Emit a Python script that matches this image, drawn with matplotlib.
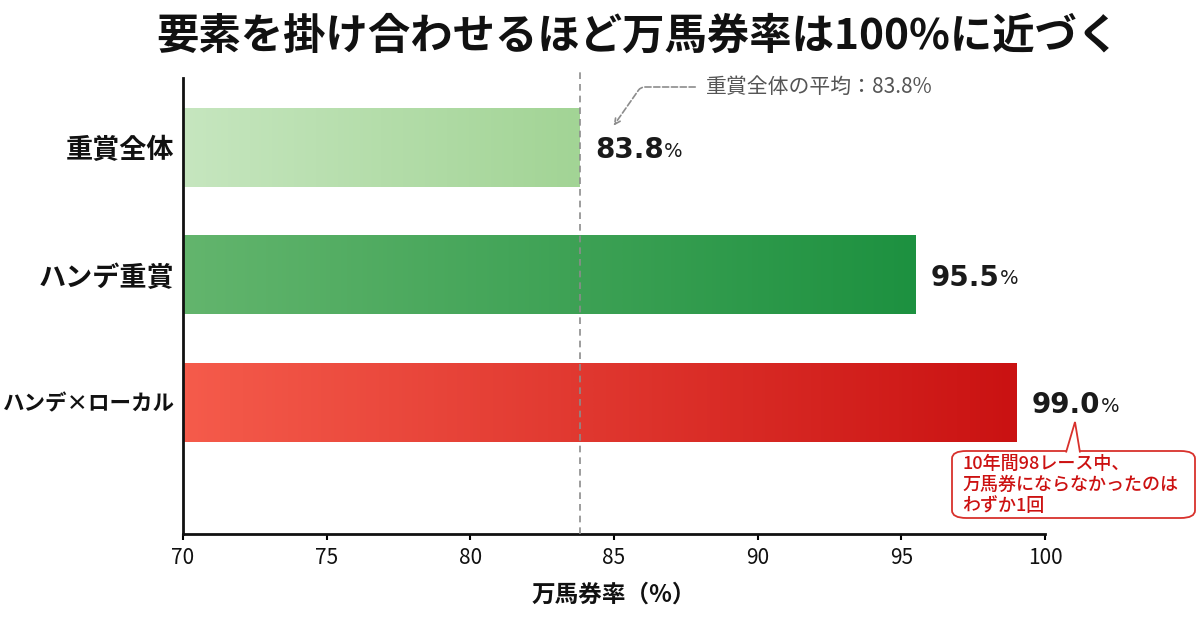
import numpy as np
import matplotlib
matplotlib.use('Agg')
import matplotlib.pyplot as plt
from matplotlib.colors import LinearSegmentedColormap
from matplotlib.patches import FancyBboxPatch, Polygon

plt.rcParams['font.family'] = ['Noto Sans CJK JP', 'DejaVu Sans']

# data
categories = ['重賞全体', 'ハンデ重賞', 'ハンデ×ローカル']
rates = [83.8, 95.5, 99.0]
avg_rate = 83.8
x_ticks = [70, 75, 80, 85, 90, 95, 100]

title = '要素を掛け合わせるほど万馬券率は100%に近づく'
xlabel = '万馬券率（%）'
avg_label = '重賞全体の平均：83.8%'
note = '10年間98レース中、\n万馬券にならなかったのは\nわずか1回'

# left -> right gradient colours for each bar
grads = [('#c6e6bf', '#a2d495'), ('#63b56d', '#1d9140'), ('#f55b4b', '#ca1212')]

W, H = 1200, 630
fig = plt.figure(figsize=(12, 6.3), dpi=100)
ax = fig.add_axes([183 / W, 96 / H, (1045 - 183) / W, (534 - 78) / H])


def px(x, y):
    # pixel position (from top-left) -> figure fraction
    return (x / W, 1 - y / H)


bar_h = 0.62
ypos = np.arange(len(categories))
grad = np.linspace(0, 1, 256).reshape(1, -1)
for y, v, (c0, c1) in zip(ypos, rates, grads):
    patch = ax.barh(y, v - 70, left=70, height=bar_h, color='none', edgecolor='none')[0]
    cmap = LinearSegmentedColormap.from_list('g', [c0, c1])
    im = ax.imshow(grad, cmap=cmap, aspect='auto', extent=(70, v, y + bar_h / 2, y - bar_h / 2),
                   zorder=2, interpolation='bicubic')
    im.set_clip_path(patch)

    t = ax.annotate('{:.1f}'.format(v), xy=(v, y), xytext=(11, -2), textcoords='offset points',
                    ha='left', va='center', fontsize=20, fontweight='bold', color='#1a1a1a',
                    family='DejaVu Sans')
    ax.annotate('%', xy=(1, 0), xycoords=t, xytext=(0.3, 2.3), textcoords='offset points',
                ha='left', va='bottom', fontsize=14, color='#1a1a1a', family='DejaVu Sans')

ax.axvline(avg_rate, ymin=0, ymax=1.02, color='#8c8c8c', lw=1.2, ls=(0, (4, 3)), zorder=3, clip_on=False)

ax.set_xlim(70, 100)
ax.set_ylim(3.035, -0.545)
ax.set_xticks(x_ticks)
ax.set_xticklabels([str(x) for x in x_ticks], fontsize=15, color='#111111')
ax.set_yticks(ypos)
ax.set_yticklabels(categories, fontweight='bold', color='#111111')
for lab, fs in zip(ax.get_yticklabels(), [19.5, 19.5, 15.5]):
    lab.set_fontsize(fs)
ax.tick_params(axis='y', length=0, pad=6)
ax.tick_params(axis='x', length=4, width=1.5, pad=5)
for s in ['top', 'right']:
    ax.spines[s].set_visible(False)
for s in ['left', 'bottom']:
    ax.spines[s].set_linewidth(2)
    ax.spines[s].set_color('#111111')
ax.set_xlabel(xlabel, fontsize=17, fontweight='bold', labelpad=10, color='#111111')

fig.text(*px(638, 37), title, ha='center', va='center', fontsize=30.5, fontweight='bold', color='#111111')

# average annotation
fig.text(*px(706, 87), avg_label, ha='left', va='center', fontsize=15, color='#555555')
ax.annotate('', xy=px(612, 128), xycoords='figure fraction',
            xytext=px(698, 87), textcoords='figure fraction',
            arrowprops=dict(arrowstyle='->', color='#8c8c8c', lw=1.2, ls='--',
                            connectionstyle='angle,angleA=180,angleB=55,rad=4'))

# callout box
red = '#d8312c'
bx0, by0, bx1, by1 = 952, 451, 1195, 518
box = FancyBboxPatch(px(bx0, by1), (bx1 - bx0) / W, (by1 - by0) / H,
                     boxstyle='round,pad=0,rounding_size=0.012', transform=fig.transFigure,
                     fc='white', ec=red, lw=1.3, zorder=5)
fig.patches.append(box)
tail = Polygon([px(1066, 452.5), px(1075, 422), px(1080, 452.5)], closed=False,
               transform=fig.transFigure, fc='white', ec=red, lw=1.3, zorder=6)
fig.patches.append(tail)
fig.text(*px(962, 485), note, ha='left', va='center', fontsize=13, color='#cc1111',
         fontweight='medium', linespacing=1.2, zorder=7)

fig.savefig('out.png', dpi=100, facecolor='white')
